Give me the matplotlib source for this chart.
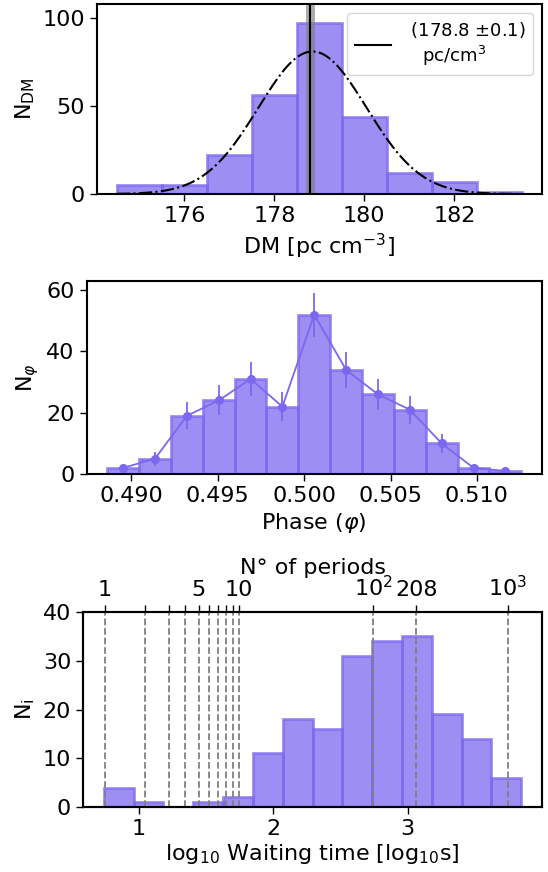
import matplotlib
matplotlib.use("Agg")
import matplotlib.pyplot as plt
import numpy as np

# DM histogram (bin edges, counts) and gaussian fit
dm_edges = [174.5, 175.5, 176.5, 177.5, 178.5, 179.5, 180.5, 181.5, 182.5, 183.5]
dm_counts = [5, 5, 22, 56, 97, 44, 12, 7, 1]
dm_fit_mu = 178.85
dm_fit_sigma = 1.2
dm_fit_amp = 81.0
dm_best = 178.8
dm_err = 0.1

# phase histogram
ph_start = 0.488594
ph_width = 0.0018443
ph_counts = [2, 5, 19, 24, 31, 22, 52, 34, 26, 21, 10, 2, 1]

# waiting time histogram (log10 s)
wt_start = 0.740
wt_width = 0.2217
wt_counts = [4, 1, 0, 1, 2, 11, 18, 16, 31, 34, 35, 19, 14, 6]
log_period = 0.745
n_periods = [1, 2, 3, 4, 5, 6, 7, 8, 9, 10, 100, 208, 1000]
n_labels = ['1', '', '', '', '5', '', '', '', '', '10', '$10^2$', '208', '$10^3$']

col = '#7B68EE'
plt.rcParams.update({'font.size': 16, 'axes.linewidth': 1.5,
                     'xtick.major.size': 5, 'ytick.major.size': 5,
                     'xtick.major.width': 1.0, 'ytick.major.width': 1.0})

fig = plt.figure(figsize=(5.48, 8.72), dpi=100)
W, H = 548., 872.
def box(l, r, t, b):
    return [l / W, 1 - b / H, (r - l) / W, (b - t) / H]

# ---- DM ----
ax1 = fig.add_axes(box(96.5, 542, 4, 194))
ax1.hist(dm_edges[:-1], bins=dm_edges, weights=dm_counts, color=col, alpha=0.75,
         edgecolor=col, linewidth=2)
xx = np.linspace(dm_edges[0], dm_edges[-1], 400)
ax1.plot(xx, dm_fit_amp * np.exp(-0.5 * ((xx - dm_fit_mu) / dm_fit_sigma) ** 2),
         'k-.', lw=1.5)
ax1.axvspan(dm_best - dm_err, dm_best + dm_err, color='gray', alpha=0.65, lw=0)
ax1.axvline(dm_best, color='k', lw=1.5,
            label=' (178.8 $\\pm$0.1)\n   pc/cm$^3$')
ax1.set_ylim(0, 108)
ax1.set_xticks([176, 178, 180, 182])
ax1.set_xlabel('DM [pc cm$^{-3}$]')
ax1.set_ylabel('N$_{\\rm DM}$')
ax1.legend(loc='upper right', fontsize=13, handlelength=2.0)

# ---- Phase ----
ax2 = fig.add_axes(box(86.5, 542, 281, 474))
ph_edges = ph_start + ph_width * np.arange(len(ph_counts) + 1)
ph_cent = ph_edges[:-1] + ph_width / 2
ax2.hist(ph_cent, bins=ph_edges, weights=ph_counts, color=col, alpha=0.75,
         edgecolor=col, linewidth=2)
ax2.errorbar(ph_cent, ph_counts, yerr=np.sqrt(ph_counts), color=col, marker='o',
             ms=5.5, lw=1.3, elinewidth=1.3)
ax2.set_ylim(0, 63)
ax2.set_xticks([0.490, 0.495, 0.500, 0.505, 0.510])
ax2.set_xlabel('Phase ($\\varphi$)')
ax2.set_ylabel('N$_{\\varphi}$')

# ---- Waiting time ----
ax3 = fig.add_axes(box(83, 542, 612, 807))
wt_edges = wt_start + wt_width * np.arange(len(wt_counts) + 1)
ax3.hist(wt_edges[:-1] + wt_width / 2, bins=wt_edges, weights=wt_counts, color=col,
         alpha=0.75, edgecolor=col, linewidth=2)
n_pos = log_period + np.log10(n_periods)
for p in n_pos:
    ax3.axvline(p, color='gray', ls='--', lw=1.3)
ax3.set_ylim(0, 40)
ax3.set_xticks([1, 2, 3])
ax3.set_xlabel('log$_{10}$ Waiting time [log$_{10}$s]', labelpad=2)
ax3.set_ylabel('N$_{\\rm i}$')
top = ax3.twiny()
top.set_xlim(ax3.get_xlim())
top.set_xticks(n_pos)
top.set_xticklabels(n_labels)
top.set_xlabel('N° of periods', labelpad=1)

fig.savefig('out.png', dpi=100)
